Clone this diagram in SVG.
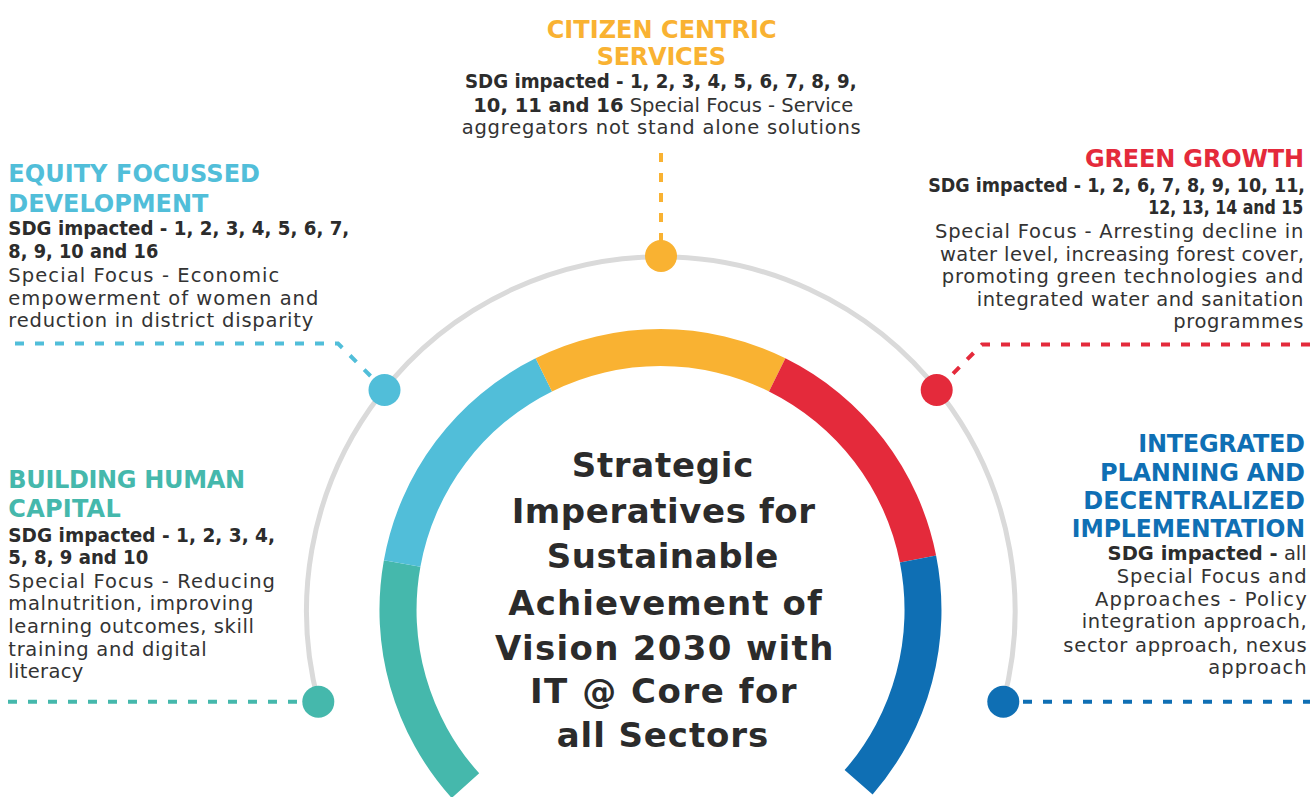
<svg xmlns="http://www.w3.org/2000/svg" width="1310" height="797" viewBox="0 0 1310 797">
<style>
.h{font-family:"DejaVu Sans",sans-serif;font-weight:bold;font-size:24px}
.b{font-family:"DejaVu Sans",sans-serif;font-weight:bold;font-size:19.5px;fill:#2c2c2c}
.r{font-family:"DejaVu Sans",sans-serif;font-size:19.5px;fill:#333333}
.t{font-family:"DejaVu Sans",sans-serif;font-weight:bold;font-size:34px;fill:#2b2b2b}
.e{text-anchor:end}
.m{text-anchor:middle}
.dash{fill:none;stroke-width:4;stroke-dasharray:9 11}
</style>
<rect width="1310" height="797" fill="#ffffff"/>
<g id="ring">
<path d="M318.3,701.7 A354.3,354.3 0 1,1 1003.3,701.7" fill="none" stroke="#dadada" stroke-width="5"/>
</g>
<g id="connectors">
<path class="dash" stroke="#51bed9" d="M15,343.5 H338 L384.5,390"/>
<path class="dash" stroke="#f9b232" d="M661,153 V256"/>
<path class="dash" stroke="#e42a3b" d="M1310,344.5 H982 L936.7,390"/>
<path class="dash" stroke="#45b8ac" d="M8,701.7 H318"/>
<path class="dash" stroke="#0f6fb4" d="M1003,701.7 H1310"/>
</g>
<g id="node-center">
<path fill="#45b8ac" d="M451.7,798.0 A281,281 0 0,1 383.9,560.2 L420.4,566.8 A244,244 0 0,0 479.2,773.3 Z"/>
<path fill="#51bed9" d="M383.9,560.2 A281,281 0 0,1 535.6,358.3 L552.0,391.4 A244,244 0 0,0 420.4,566.8 Z"/>
<path fill="#f9b232" d="M535.6,358.3 A281,281 0 0,1 785.4,358.3 L769.0,391.4 A244,244 0 0,0 552.0,391.4 Z"/>
<path fill="#e42a3b" d="M785.4,358.3 A281,281 0 0,1 936.1,555.4 L899.9,562.6 A244,244 0 0,0 769.0,391.4 Z"/>
<path fill="#0f6fb4" d="M936.1,555.4 A281,281 0 0,1 872.6,794.4 L844.6,770.1 A244,244 0 0,0 899.9,562.6 Z"/>
<text class="t m" x="662.5" y="476.7" textLength="181.6" lengthAdjust="spacing">Strategic</text>
<text class="t m" x="663.3" y="523.3" textLength="303.3" lengthAdjust="spacing">Imperatives for</text>
<text class="t m" x="662.5" y="568.3" textLength="231.6" lengthAdjust="spacing">Sustainable</text>
<text class="t m" x="665" y="615" textLength="313.4" lengthAdjust="spacing">Achievement of</text>
<text class="t m" x="664.2" y="660" textLength="338.3" lengthAdjust="spacing">Vision 2030 with</text>
<text class="t m" x="663.3" y="703.3" textLength="266.7" lengthAdjust="spacing">IT @ Core for</text>
<text class="t m" x="662.5" y="746.7" textLength="211.6" lengthAdjust="spacing">all Sectors</text>
</g>
<g id="node-citizen">
<circle cx="661" cy="256" r="16" fill="#f9b232"/>
<text class="h m" fill="#f9b232" x="661.7" y="38.3" textLength="230" lengthAdjust="spacing">CITIZEN CENTRIC</text>
<text class="h m" fill="#f9b232" x="661.3" y="65" textLength="129.3" lengthAdjust="spacing">SERVICES</text>
<text class="b m" x="660.8" y="88.3" textLength="391.7" lengthAdjust="spacingAndGlyphs">SDG impacted - 1, 2, 3, 4, 5, 6, 7, 8, 9,</text>
<text class="r" x="473.3" y="111.7"><tspan class="b">10, 11 and 16</tspan> Special Focus - Service</text>
<text class="r m" x="661.2" y="134" textLength="399" lengthAdjust="spacing">aggregators not stand alone solutions</text>
</g>
<g id="node-equity">
<circle cx="384.5" cy="390" r="16" fill="#51bed9"/>
<text class="h" fill="#51bed9" x="8.3" y="181.7" textLength="251.7" lengthAdjust="spacing">EQUITY FOCUSSED</text>
<text class="h" fill="#51bed9" x="8.3" y="211.7" textLength="200" lengthAdjust="spacing">DEVELOPMENT</text>
<text class="b" x="8.3" y="235" textLength="341" lengthAdjust="spacingAndGlyphs">SDG impacted - 1, 2, 3, 4, 5, 6, 7,</text>
<text class="b" x="8.3" y="258.3" textLength="150" lengthAdjust="spacingAndGlyphs">8, 9, 10 and 16</text>
<text class="r" x="8.3" y="281.7" textLength="271" lengthAdjust="spacing">Special Focus - Economic</text>
<text class="r" x="8.3" y="304.5" textLength="310" lengthAdjust="spacing">empowerment of women and</text>
<text class="r" x="8.3" y="327" textLength="305" lengthAdjust="spacing">reduction in district disparity</text>
</g>
<g id="node-green">
<circle cx="936.7" cy="390" r="16" fill="#e42a3b"/>
<text class="h e" fill="#e42a3b" x="1304" y="166.7" textLength="219" lengthAdjust="spacing">GREEN GROWTH</text>
<text class="b e" transform="translate(1305,191.7) scale(0.899,1)">SDG impacted - 1, 2, 6, 7, 8, 9, 10, 11,</text>
<text class="b e" transform="translate(1303.3,214) scale(0.81,1)">12, 13, 14 and 15</text>
<text class="r e" x="1303.3" y="238.3" textLength="368.3" lengthAdjust="spacing">Special Focus - Arresting decline in</text>
<text class="r e" x="1304" y="260.7" textLength="364" lengthAdjust="spacing">water level, increasing forest cover,</text>
<text class="r e" x="1303.3" y="283.3" textLength="361.6" lengthAdjust="spacing">promoting green technologies and</text>
<text class="r e" x="1303.3" y="306.3" textLength="326.6" lengthAdjust="spacing">integrated water and sanitation</text>
<text class="r e" x="1303.3" y="328.3" textLength="130" lengthAdjust="spacing">programmes</text>
</g>
<g id="node-building">
<circle cx="318.3" cy="701.7" r="16" fill="#45b8ac"/>
<text class="h" fill="#45b8ac" x="8.3" y="488.3" textLength="236.7" lengthAdjust="spacing">BUILDING HUMAN</text>
<text class="h" fill="#45b8ac" x="8.3" y="517.3" textLength="112.4" lengthAdjust="spacing">CAPITAL</text>
<text class="b" x="8.3" y="541.7" textLength="266.7" lengthAdjust="spacingAndGlyphs">SDG impacted - 1, 2, 3, 4,</text>
<text class="b" x="8.3" y="564" textLength="140" lengthAdjust="spacingAndGlyphs">5, 8, 9 and 10</text>
<text class="r" x="8.3" y="587.7" textLength="266.7" lengthAdjust="spacing">Special Focus - Reducing</text>
<text class="r" x="8.3" y="610" textLength="245" lengthAdjust="spacing">malnutrition, improving</text>
<text class="r" x="8.3" y="633.3" textLength="245.7" lengthAdjust="spacing">learning outcomes, skill</text>
<text class="r" x="8.3" y="656" textLength="198.4" lengthAdjust="spacing">training and digital</text>
<text class="r" x="8.3" y="678.3" textLength="75" lengthAdjust="spacing">literacy</text>
</g>
<g id="node-integrated">
<circle cx="1003.3" cy="701.7" r="16" fill="#0f6fb4"/>
<text class="h e" fill="#0f6fb4" x="1305" y="452.3" textLength="166.7" lengthAdjust="spacing">INTEGRATED</text>
<text class="h e" fill="#0f6fb4" x="1305" y="481" textLength="205" lengthAdjust="spacing">PLANNING AND</text>
<text class="h e" fill="#0f6fb4" x="1305" y="509.3" textLength="221.7" lengthAdjust="spacingAndGlyphs">DECENTRALIZED</text>
<text class="h e" fill="#0f6fb4" x="1305" y="536.7" textLength="233.3" lengthAdjust="spacingAndGlyphs">IMPLEMENTATION</text>
<text class="r e" x="1306.7" y="560"><tspan class="b">SDG impacted -</tspan> all</text>
<text class="r e" x="1306.7" y="583.3" textLength="190" lengthAdjust="spacing">Special Focus and</text>
<text class="r e" x="1306.7" y="605.7" textLength="211.7" lengthAdjust="spacing">Approaches - Policy</text>
<text class="r e" x="1306.7" y="628.3" textLength="225" lengthAdjust="spacing">integration approach,</text>
<text class="r e" x="1306.7" y="651.7" textLength="243.4" lengthAdjust="spacing">sector approach, nexus</text>
<text class="r e" x="1306.7" y="674.3" textLength="98.4" lengthAdjust="spacing">approach</text>
</g>
</svg>
